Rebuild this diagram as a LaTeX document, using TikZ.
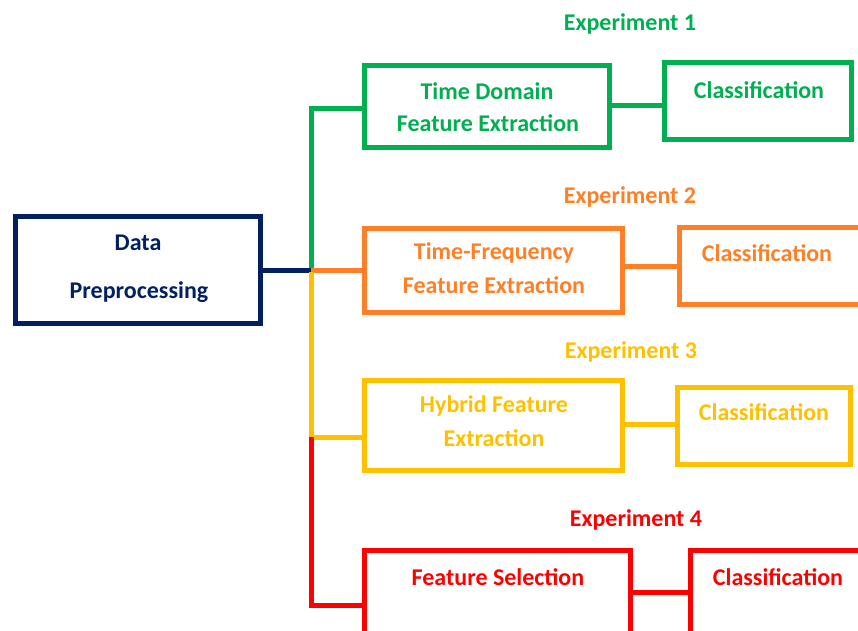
\documentclass[tikz,border=0pt]{standalone}
\usepackage{fontspec}
\setmainfont{Carlito}
\definecolor{navy}{HTML}{002060}
\definecolor{cgreen}{HTML}{00B050}
\definecolor{corange}{HTML}{FF7F27}
\definecolor{cyellow}{HTML}{FFC000}
\definecolor{cred}{HTML}{FF0000}
\begin{document}
\begin{tikzpicture}[x=1pt,y=-1pt,
  box/.style={draw, line width=5pt, rectangle, inner sep=0pt},
  lbl/.style={font=\fontsize{24}{28}\selectfont\bfseries, inner sep=0pt, align=center},
  conn/.style={line width=5pt}]
\useasboundingbox (0,0) rectangle (858,630);
\clip (0,0) rectangle (858,630);
% boxes
\node[box, navy, minimum width=245pt, minimum height=107pt] (dp) at (138,270) {};
\node[box, cgreen, minimum width=245pt, minimum height=82pt] (td) at (487,106.5) {};
\node[box, cgreen, minimum width=187pt, minimum height=77pt] (c1) at (758,101) {};
\node[box, corange, minimum width=258pt, minimum height=84pt] (tf) at (493.5,270.5) {};
\node[box, corange, minimum width=190pt, minimum height=77pt] (c2) at (774,266) {};
\node[box, cyellow, minimum width=258pt, minimum height=90pt] (hy) at (493.5,425.5) {};
\node[box, cyellow, minimum width=173pt, minimum height=77pt] (c3) at (764,426) {};
\node[box, cred, minimum width=266pt, minimum height=97pt] (fs) at (497.5,599) {};
\node[box, cred, minimum width=180pt, minimum height=97pt] (c4) at (780.5,599) {};
% texts
\node[lbl, navy] (t1) at (138,243) {Data};
\node[lbl, navy] (t2) at (139,292) {Preprocessing};
\node[lbl, cgreen] (e1) at (630,24) {Experiment 1};
\node[lbl, cgreen] (t3) at (487,91) {Time Domain};
\node[lbl, cgreen] (t4) at (488,123) {Feature Extraction};
\node[lbl, cgreen] (t5) at (759,90) {Classification};
\node[lbl, corange] (e2) at (630,197) {Experiment 2};
\node[lbl, corange] (t6) at (494,253) {Time-Frequency};
\node[lbl, corange] (t7) at (494,285) {Feature Extraction};
\node[lbl, corange] (t8) at (767,253) {Classification};
\node[lbl, cyellow] (e3) at (631,352) {Experiment 3};
\node[lbl, cyellow] (t9) at (494,406) {Hybrid Feature};
\node[lbl, cyellow] (t10) at (494,438) {Extraction};
\node[lbl, cyellow] (t11) at (764,412) {Classification};
\node[lbl, cred] (e4) at (636,520) {Experiment 4};
\node[lbl, cred] (t12) at (498,577) {Feature Selection};
\node[lbl, cred] (t13) at (778,577) {Classification};
% junctions
\coordinate (j) at (311,270);
\coordinate (g1) at (311,108);
\coordinate (y1) at (311,437);
\coordinate (r1) at (311,605);
\coordinate (r2) at (633,592);
% connectors
\draw[conn, navy] (dp.east) -- (j);
\draw[conn, cgreen] ([yshift=2pt]j) -- (g1) -- (g1 -| td.west);
\draw[conn, corange] (j) -- (j -| tf.west);
\draw[conn, cyellow] ([yshift=-2pt]j) -- (y1) -- (y1 -| hy.west);
\draw[conn, cred] (y1) -- (r1) -- (r1 -| fs.west);
\draw[conn, cgreen] (td.east |- 0,105) -- (c1.west |- 0,105);
\draw[conn, corange] (c2.west) -- (c2.west -| tf.east);
\draw[conn, cyellow] (c3.west |- 0,424) -- (hy.east |- 0,424);
\draw[conn, cred] (r2) -- (r2 -| c4.west);
\end{tikzpicture}
\end{document}
